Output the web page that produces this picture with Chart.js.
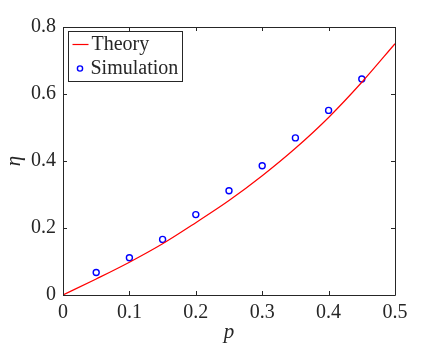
<!DOCTYPE html>
<html>
<head>
<meta charset="UTF-8" />
<title>eta vs p</title>
<script src="https://cdn.jsdelivr.net/npm/chart.js"></script>
<style>
  html, body { margin: 0; padding: 0; background: #fff; }
  #wrap { width: 436px; height: 354px; }
</style>
</head>
<body>
<div id="wrap"><canvas id="chart" width="436" height="354"></canvas></div>
<script>
// data
const theoryP   = [0, 0.05, 0.1, 0.15, 0.2, 0.25, 0.3, 0.35, 0.4, 0.45, 0.5];
const theoryEta = [0, 0.048, 0.098, 0.153, 0.216, 0.282, 0.356, 0.438, 0.530, 0.635, 0.75];
const simP      = [0.05, 0.1, 0.15, 0.2, 0.25, 0.3, 0.35, 0.4, 0.45];
const simEta    = [0.067, 0.111, 0.166, 0.240, 0.311, 0.386, 0.469, 0.551, 0.645];
const xTicks    = [0, 0.1, 0.2, 0.3, 0.4, 0.5];
const yTicks    = [0, 0.2, 0.4, 0.6, 0.8];

const axisColor = '#262626';
const serif = '"Liberation Serif"';

// matlab style box with inward ticks + legend box
const matlabBox = {
  id: 'matlabBox',
  afterDraw(chart) {
    const ctx = chart.ctx;
    const a = chart.chartArea;
    const xs = chart.scales.x, ys = chart.scales.y;
    const tl = 4;
    ctx.save();
    ctx.strokeStyle = axisColor;
    ctx.lineWidth = 1;
    ctx.beginPath();
    ctx.rect(Math.round(a.left) + 0.5, Math.round(a.top) + 0.5,
             Math.round(a.right - a.left), Math.round(a.bottom - a.top));
    xTicks.forEach(v => {
      const px = Math.round(xs.getPixelForValue(v)) + 0.5;
      ctx.moveTo(px, a.bottom); ctx.lineTo(px, a.bottom - tl);
      ctx.moveTo(px, a.top); ctx.lineTo(px, a.top + tl);
    });
    yTicks.forEach(v => {
      const py = Math.round(ys.getPixelForValue(v)) + 0.5;
      ctx.moveTo(a.left, py); ctx.lineTo(a.left + tl, py);
      ctx.moveTo(a.right, py); ctx.lineTo(a.right - tl, py);
    });
    ctx.stroke();

    // legend
    const lx = a.left + 5.5, ly = a.top + 4.5, lw = 114, lh = 50;
    ctx.fillStyle = '#fff';
    ctx.fillRect(lx, ly, lw, lh);
    ctx.strokeStyle = axisColor;
    ctx.strokeRect(lx, ly, lw, lh);
    const ds = chart.data.datasets;
    ctx.font = '20px ' + serif;
    ctx.fillStyle = axisColor;
    ctx.textBaseline = 'middle';
    ctx.textAlign = 'left';
    // Theory
    ctx.strokeStyle = ds[0].borderColor;
    ctx.lineWidth = 1.2;
    ctx.beginPath();
    ctx.moveTo(lx + 4, ly + 13); ctx.lineTo(lx + 20, ly + 13);
    ctx.stroke();
    ctx.fillText(ds[0].label, lx + 23, ly + 13);
    // Simulation
    ctx.strokeStyle = ds[1].borderColor;
    ctx.lineWidth = 1.4;
    ctx.beginPath();
    ctx.arc(lx + 11.5, ly + 37, 2.6, 0, Math.PI * 2);
    ctx.stroke();
    ctx.fillText(ds[1].label, lx + 22, ly + 37);
    ctx.restore();
  }
};

new Chart(document.getElementById('chart'), {
  type: 'scatter',
  data: {
    datasets: [
      {
        label: 'Theory',
        type: 'line',
        data: theoryP.map((p, i) => ({ x: p, y: theoryEta[i] })),
        borderColor: '#ff0000',
        borderWidth: 1.2,
        pointRadius: 0,
        cubicInterpolationMode: 'monotone',
        fill: false
      },
      {
        label: 'Simulation',
        data: simP.map((p, i) => ({ x: p, y: simEta[i] })),
        borderColor: '#0000ff',
        backgroundColor: 'rgba(0,0,0,0)',
        borderWidth: 1.4,
        pointRadius: 3,
        pointStyle: 'circle'
      }
    ]
  },
  options: {
    responsive: false,
    animation: false,
    layout: { padding: { top: 27, right: 41, left: 0, bottom: 0 } },
    plugins: {
      legend: { display: false },
      tooltip: { enabled: false }
    },
    scales: {
      x: {
        type: 'linear',
        min: 0, max: 0.5,
        afterBuildTicks: s => { s.ticks = xTicks.map(v => ({ value: v })); },
        afterFit: s => { s.height = 59; },
        grid: { display: false, drawTicks: false },
        border: { display: false },
        ticks: {
          color: axisColor,
          padding: 6,
          font: { family: serif, size: 20 },
          callback: v => String(+v.toFixed(1))
        },
        title: {
          display: true,
          text: 'p',
          color: axisColor,
          font: { family: serif, size: 21, style: 'italic' },
          padding: { top: 0, bottom: 9 }
        }
      },
      y: {
        type: 'linear',
        min: 0, max: 0.8,
        afterBuildTicks: s => { s.ticks = yTicks.map(v => ({ value: v })); },
        afterFit: s => { s.width = 63; },
        grid: { display: false, drawTicks: false },
        border: { display: false },
        ticks: {
          color: axisColor,
          padding: 7,
          font: { family: serif, size: 20 },
          callback: v => String(+v.toFixed(1))
        },
        title: {
          display: true,
          text: 'η',
          color: axisColor,
          font: { family: serif, size: 21, style: 'italic' },
          padding: { top: 2, bottom: 0 }
        }
      }
    }
  },
  plugins: [matlabBox]
});
</script>
</body>
</html>
